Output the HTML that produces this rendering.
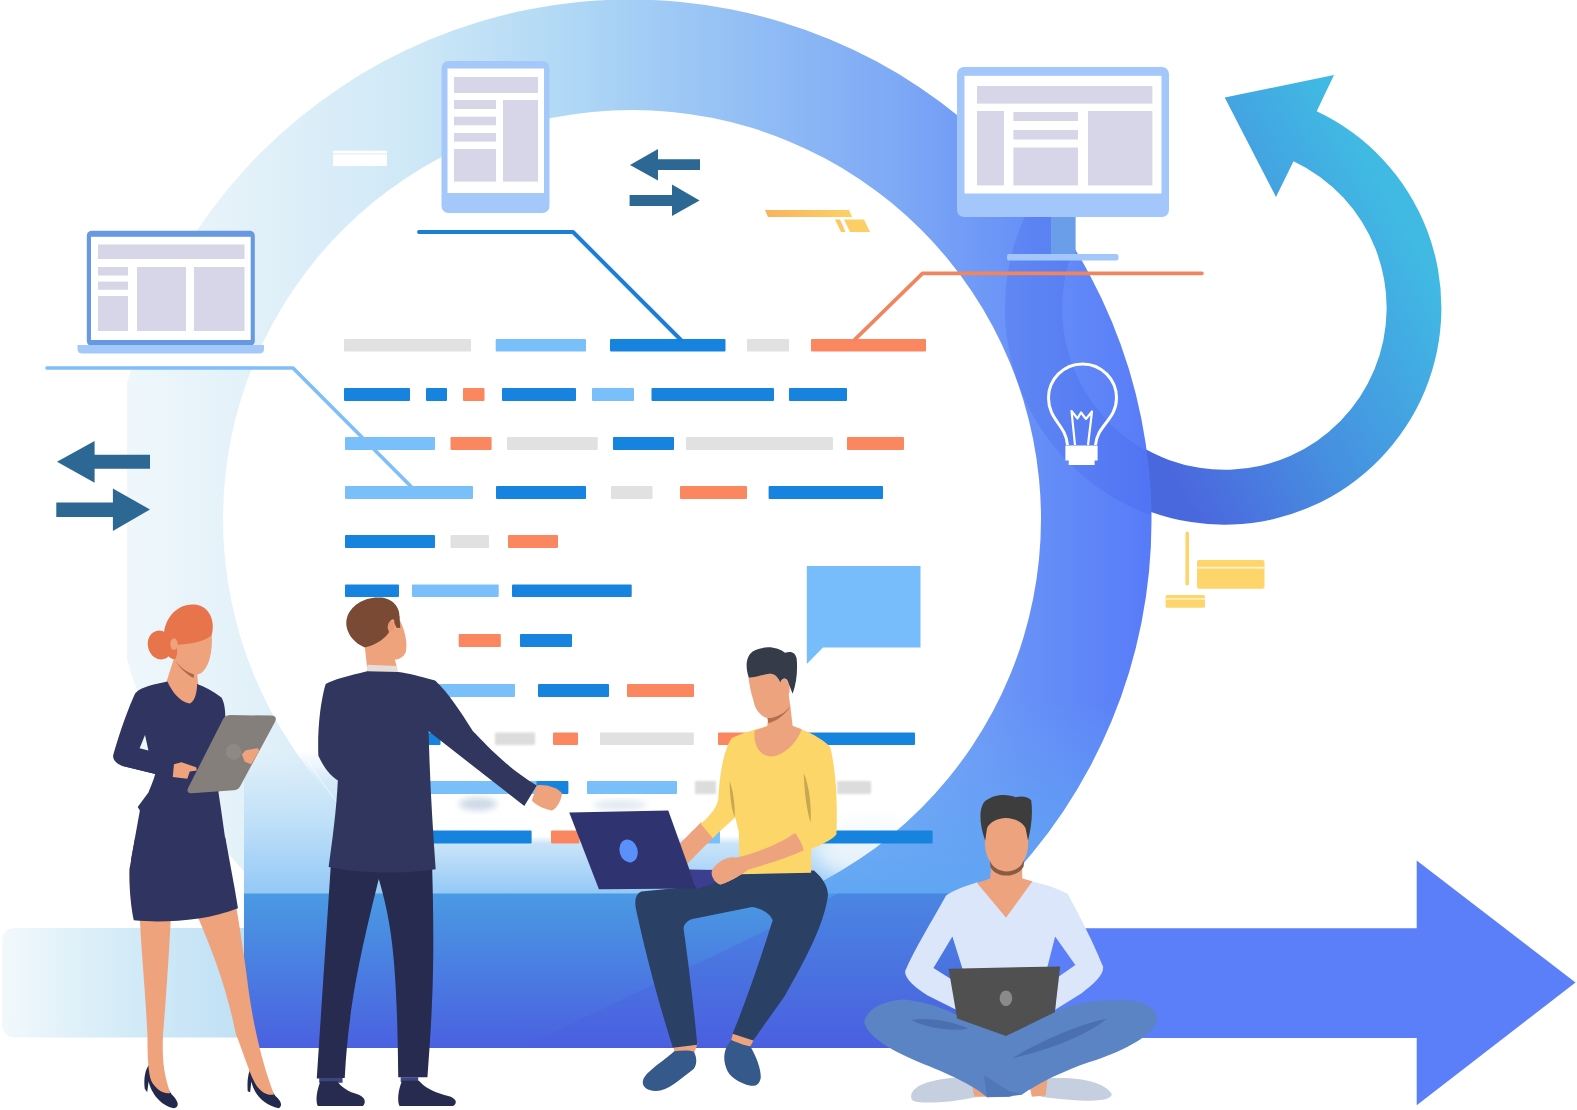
<!DOCTYPE html>
<html lang="en">
<head>
<meta charset="utf-8">
<title>Agile workflow illustration</title>
<style>
html,body{margin:0;padding:0;background:#fff;}
body{width:1577px;height:1110px;overflow:hidden;font-family:"Liberation Sans",sans-serif;}
svg{display:block;}
</style>
</head>
<body>
<svg width="1577" height="1110" viewBox="0 0 1577 1110">
<defs>
  <linearGradient id="gRing" gradientUnits="userSpaceOnUse" x1="125" y1="0" x2="1152" y2="0">
    <stop offset="0" stop-color="#eff7fb"/>
    <stop offset="0.10" stop-color="#e5f2f9"/>
    <stop offset="0.27" stop-color="#d0e9f7"/>
    <stop offset="0.42" stop-color="#b2d9f5"/>
    <stop offset="0.58" stop-color="#96c2f5"/>
    <stop offset="0.75" stop-color="#7ea9f5"/>
    <stop offset="0.88" stop-color="#6790f7"/>
    <stop offset="1" stop-color="#577bf8"/>
  </linearGradient>
  <linearGradient id="gFloor" gradientUnits="userSpaceOnUse" x1="0" y1="893" x2="0" y2="1048">
    <stop offset="0" stop-color="#4a9ae3"/>
    <stop offset="0.5" stop-color="#4a7de1"/>
    <stop offset="1" stop-color="#4a61e0"/>
  </linearGradient>
  <linearGradient id="gGlow" gradientUnits="userSpaceOnUse" x1="0" y1="836" x2="0" y2="894">
    <stop offset="0" stop-color="#cde6f9" stop-opacity="0"/>
    <stop offset="0.13" stop-color="#cae4f9" stop-opacity="1"/>
    <stop offset="1" stop-color="#93c8f6" stop-opacity="1"/>
  </linearGradient>
  <filter id="fBlur" x="-30%" y="-30%" width="160%" height="160%"><feGaussianBlur stdDeviation="9"/></filter>
  <filter id="fBlur1" x="-20%" y="-60%" width="140%" height="220%"><feGaussianBlur stdDeviation="1.3"/></filter>
  <filter id="fBlur2" x="-30%" y="-30%" width="160%" height="160%"><feGaussianBlur stdDeviation="3"/></filter>
  <linearGradient id="gGlowL" gradientUnits="userSpaceOnUse" x1="0" y1="750" x2="0" y2="894">
    <stop offset="0" stop-color="#d8ecf9" stop-opacity="0"/>
    <stop offset="0.2" stop-color="#d3e9f8" stop-opacity="0.9"/>
    <stop offset="0.5" stop-color="#bfe0f8" stop-opacity="1"/>
    <stop offset="1" stop-color="#93c8f6" stop-opacity="1"/>
  </linearGradient>
  <linearGradient id="gGlowR" gradientUnits="userSpaceOnUse" x1="0" y1="700" x2="0" y2="894">
    <stop offset="0" stop-color="#62a8f4" stop-opacity="0"/>
    <stop offset="1" stop-color="#5fa6f3" stop-opacity="0.95"/>
  </linearGradient>
  <clipPath id="cDisc"><circle cx="632" cy="519" r="409"/></clipPath>
  <clipPath id="cNotDisc"><path clip-rule="evenodd" d="M0,0H1577V1110H0Z M223,519 A409,409 0 1 1 1041,519 A409,409 0 1 1 223,519 Z"/></clipPath>
  <clipPath id="cRingOuter"><circle cx="630" cy="521" r="521.5"/></clipPath>
  <clipPath id="cLeft"><rect x="127" y="-10" width="1500" height="1200"/></clipPath>
  <linearGradient id="gPale" gradientUnits="userSpaceOnUse" x1="0" y1="0" x2="244" y2="0">
    <stop offset="0" stop-color="#f3f9fc"/>
    <stop offset="0.4" stop-color="#d9eef8"/>
    <stop offset="1" stop-color="#bfe0f5"/>
  </linearGradient>
  <linearGradient id="gBranch" gradientUnits="userSpaceOnUse" x1="1184" y1="495" x2="1465" y2="335">
    <stop offset="0" stop-color="#4a68de"/>
    <stop offset="0.12" stop-color="#4a72df"/>
    <stop offset="0.45" stop-color="#4690e0"/>
    <stop offset="0.75" stop-color="#43a6e2"/>
    <stop offset="1" stop-color="#40b9e3"/>
  </linearGradient>
  <linearGradient id="gYel" gradientUnits="userSpaceOnUse" x1="765" y1="0" x2="870" y2="0">
    <stop offset="0" stop-color="#f9b25e"/>
    <stop offset="1" stop-color="#fdd768"/>
  </linearGradient>
  <clipPath id="cView"><rect x="0" y="0" width="1577" height="1110"/></clipPath>
</defs>
<g clip-path="url(#cView)">
<!-- BACKGROUND -->
<g id="bg">
  <!-- branch arrow (under ring) -->
  <path id="branch" fill="url(#gBranch)" d="M1071.6,461.4 A217,217 0 0 0 1151.0,511.9 A217,217 0 0 0 1316.7,111.3 L1334,75 L1224.7,97.5 L1276,197 L1293.5,161.2 A162,162 0 0 1 1169.6,460.2 A162,162 0 0 1 1110.4,422.6 Z"/>
  <!-- ring -->
  <g clip-path="url(#cLeft)"><path id="ring" fill="url(#gRing)" fill-rule="evenodd" d="M108.5,521 A521.5,521.5 0 1 0 1151.5,521 A521.5,521.5 0 1 0 108.5,521 Z M223,519 A409,409 0 1 1 1041,519 A409,409 0 1 1 223,519 Z"/></g>
</g>
<g id="bg2">
  <!-- darker swoosh on ring right side (tail of branch) -->
  <g clip-path="url(#cRingOuter)"><path fill="#3a5ce6" opacity="0.22" d="M1186.8,524.7 A220,220 0 0 1 1061.5,160.8 L1103.9,198.9 A163,163 0 0 0 1196.7,468.5 Z"/></g>
  <!-- pale band bottom-left -->
  <path fill="url(#gPale)" d="M16,928 H244 V1037.5 H16 Q2,1037.5 2,1024 V942 Q2,928 16,928 Z"/>
  <!-- glow -->
  <g clip-path="url(#cNotDisc)"><g clip-path="url(#cRingOuter)"><rect x="760" y="700" width="440" height="194" fill="url(#gGlowR)"/></g></g>
  <rect x="244" y="836" width="456" height="58" fill="url(#gGlow)"/>
  <g clip-path="url(#cDisc)"><rect x="700" y="836" width="344" height="58" fill="url(#gGlow)"/>
  <ellipse cx="872" cy="850" rx="55" ry="30" fill="#f2f8fc" opacity="0.8" filter="url(#fBlur)"/></g>
  <rect x="244" y="750" width="101" height="144" fill="url(#gGlowL)"/>
  <path d="M283.5,713 A409,409 0 0 0 345,812" fill="none" stroke="#ffffff" stroke-opacity="0.45" stroke-width="1.2"/>
  <ellipse cx="478" cy="804" rx="19" ry="6.5" fill="#cdd9e6" filter="url(#fBlur2)"/>
  <ellipse cx="620" cy="805" rx="27" ry="4.5" fill="#dfe7f0" filter="url(#fBlur2)"/>
  
  <!-- floor -->
  <rect x="244" y="893.5" width="770" height="154.5" fill="url(#gFloor)"/>
  <path fill="#4b5ce0" opacity="0.32" d="M838,893.5 H1014 V1048 H520 L600,1010 C700,962 770,930 838,893.5 Z"/>
  <!-- big arrow -->
  <path fill="#5b7ff8" d="M1000,928.2 H1416.7 V860.5 L1575.5,982.5 L1416.7,1105.3 V1038 H1000 Z"/>
</g>

<g id="rows">
<rect x="344" y="339" width="127" height="12.6" rx="1" fill="#e1e1e1"/>
<rect x="495.7" y="339" width="90.3" height="12.6" rx="1" fill="#79bffa"/>
<rect x="610" y="339" width="115.5" height="12.6" rx="1" fill="#1683de"/>
<rect x="747" y="339" width="42" height="12.6" rx="1" fill="#e1e1e1"/>
<rect x="811" y="339" width="115" height="12.6" rx="1" fill="#fb8761"/>
<rect x="344" y="388" width="66" height="13" rx="1" fill="#1683de"/>
<rect x="426" y="388" width="21" height="13" rx="1" fill="#1683de"/>
<rect x="463" y="388" width="21.5" height="13" rx="1" fill="#fb8761"/>
<rect x="502" y="388" width="74" height="13" rx="1" fill="#1683de"/>
<rect x="592" y="388" width="42" height="13" rx="1" fill="#79bffa"/>
<rect x="651.5" y="388" width="122.5" height="13" rx="1" fill="#1683de"/>
<rect x="789" y="388" width="58" height="13" rx="1" fill="#1683de"/>
<rect x="345" y="437" width="90" height="13" rx="1" fill="#79bffa"/>
<rect x="450.5" y="437" width="41.1" height="13" rx="1" fill="#fb8761"/>
<rect x="507" y="437" width="90.7" height="13" rx="1" fill="#e1e1e1"/>
<rect x="613" y="437" width="61" height="13" rx="1" fill="#1683de"/>
<rect x="686" y="437" width="147" height="13" rx="1" fill="#e1e1e1"/>
<rect x="847" y="437" width="57" height="13" rx="1" fill="#fb8761"/>
<rect x="345" y="486" width="128" height="13" rx="1" fill="#79bffa"/>
<rect x="496" y="486" width="90" height="13" rx="1" fill="#1683de"/>
<rect x="611" y="486" width="41.5" height="13" rx="1" fill="#e1e1e1"/>
<rect x="680" y="486" width="67" height="13" rx="1" fill="#fb8761"/>
<rect x="768.6" y="486" width="114.4" height="13" rx="1" fill="#1683de"/>
<rect x="345" y="535" width="90" height="13" rx="1" fill="#1683de"/>
<rect x="450.5" y="535" width="38.5" height="13" rx="1" fill="#e1e1e1"/>
<rect x="508" y="535" width="50" height="13" rx="1" fill="#fb8761"/>
<rect x="345" y="584.5" width="54" height="12.5" rx="1" fill="#1683de"/>
<rect x="412" y="584.5" width="86.7" height="12.5" rx="1" fill="#79bffa"/>
<rect x="512" y="584.5" width="119.7" height="12.5" rx="1" fill="#1683de"/>
<rect x="458.7" y="634" width="42.1" height="13" rx="1" fill="#fb8761"/>
<rect x="520" y="634" width="52" height="13" rx="1" fill="#1683de"/>
<rect x="420" y="684" width="95" height="13" rx="1" fill="#79bffa"/>
<rect x="538" y="684" width="71" height="13" rx="1" fill="#1683de"/>
<rect x="627" y="684" width="67" height="13" rx="1" fill="#fb8761"/>
<rect x="420" y="732.6" width="20.5" height="12.4" rx="1" fill="#1683de"/>
<rect x="495" y="732.6" width="40" height="12.4" rx="1" fill="#dcdcdc" filter="url(#fBlur1)"/>
<rect x="553" y="732.6" width="25" height="12.4" rx="1" fill="#fb8761"/>
<rect x="600" y="732.6" width="93.8" height="12.4" rx="1" fill="#e1e1e1"/>
<rect x="718" y="732.6" width="42" height="12.4" rx="1" fill="#fb8761"/>
<rect x="800" y="732.6" width="115" height="12.4" rx="1" fill="#1683de"/>
<rect x="420" y="781" width="120" height="13" rx="1" fill="#79bffa"/>
<rect x="536.5" y="781" width="31.9" height="13" rx="1" fill="#1683de"/>
<rect x="587" y="781" width="90" height="13" rx="1" fill="#79bffa"/>
<rect x="695" y="781" width="21" height="13" rx="1" fill="#dcdcdc" filter="url(#fBlur1)"/>
<rect x="837" y="781" width="34" height="13" rx="1" fill="#dcdcdc" filter="url(#fBlur1)"/>
<rect x="420" y="830.5" width="111.6" height="13.0" rx="1" fill="#1683de"/>
<rect x="551" y="830.5" width="28.5" height="13.0" rx="1" fill="#fb8761"/>
<rect x="700" y="830.5" width="20" height="13.0" rx="1" fill="#79bffa"/>
<rect x="810" y="830.5" width="122.6" height="13.0" rx="1" fill="#1683de"/>
</g>

<g id="devices">
  <rect x="120" y="353" width="150" height="13.5" fill="#ffffff"/>
  <!-- connector lines -->
  <path d="M47,368 H293 L412,487.5" fill="none" stroke="#80bef7" stroke-width="3.6" stroke-linejoin="round" stroke-linecap="round"/>
  <path d="M419,232 H573 L681,340" fill="none" stroke="#1b7fd6" stroke-width="4" stroke-linejoin="round" stroke-linecap="round"/>
  <path d="M1202,273.4 H922.5 L855,339.4" fill="none" stroke="#f0865f" stroke-width="3.6" stroke-linejoin="round" stroke-linecap="round"/>
  <!-- laptop -->
  <rect x="86.8" y="230.7" width="168" height="115.3" rx="5" fill="#6799e3"/>
  <rect x="91" y="236.8" width="159.7" height="103.2" fill="#ffffff"/>
  <path d="M77.5,345 H264 V349 Q264,353.5 259,353.5 H82.5 Q77.5,353.5 77.5,349 Z" fill="#a5c8fb"/>
  <g fill="#d6d6e8">
    <rect x="98" y="244.5" width="146.5" height="14.5"/>
    <rect x="98" y="267" width="30" height="8.5"/>
    <rect x="98" y="281.6" width="30" height="8.2"/>
    <rect x="98" y="296" width="30" height="35"/>
    <rect x="137" y="267" width="49" height="64"/>
    <rect x="194" y="267" width="50.5" height="64"/>
  </g>
  <!-- tablet -->
  <rect x="441.5" y="61" width="108" height="152" rx="7" fill="#a5c8fb"/>
  <rect x="447.5" y="68.5" width="96.5" height="124.5" fill="#ffffff"/>
  <g fill="#d6d6e8">
    <rect x="454" y="77" width="84" height="16"/>
    <rect x="454" y="100" width="42" height="9"/>
    <rect x="454" y="116.7" width="42" height="8.6"/>
    <rect x="454" y="133" width="42" height="8.6"/>
    <rect x="454" y="149" width="42" height="32.6"/>
    <rect x="503" y="100" width="35" height="81.6"/>
  </g>
  <!-- monitor -->
  <rect x="1051" y="215" width="24.6" height="41" fill="#6a9ee8"/>
  <rect x="1007" y="254" width="111.5" height="6.5" rx="2" fill="#a3c7fb"/>
  <rect x="957" y="67" width="212" height="150" rx="7" fill="#a3c7fb"/>
  <rect x="964.5" y="75.8" width="197" height="117.7" fill="#ffffff"/>
  <g fill="#d6d6e8">
    <rect x="977" y="86" width="175.4" height="17.6"/>
    <rect x="977" y="111" width="27" height="74.4"/>
    <rect x="1013.4" y="112" width="64.6" height="9"/>
    <rect x="1013.4" y="130" width="64.6" height="9.5"/>
    <rect x="1013.4" y="147.5" width="64.6" height="37.9"/>
    <rect x="1088" y="111" width="64.4" height="74.4"/>
  </g>
</g>

<g id="decor">
  <!-- white chip on ring -->
  <rect x="333" y="150.7" width="54" height="15.3" fill="#ffffff"/>
  <rect x="333" y="153.2" width="54" height="1.2" fill="#e4eef8"/>
  <!-- orange/yellow marker -->
  <path d="M765,210 H849 L852,217 H768 Z" fill="url(#gYel)"/>
  <path d="M835,219.5 H840 L845.5,232 H841 Z" fill="#fbc863"/>
  <path d="M844,219.5 H864 L870,232 H850 Z" fill="#fccf66"/>
  <!-- yellow blocks right -->
  <rect x="1185.4" y="531.5" width="3.6" height="54" rx="1.8" fill="#fdd56b"/>
  <rect x="1197" y="560" width="67.5" height="28.7" rx="2" fill="#fdd56b"/>
  <rect x="1197" y="566.8" width="67.5" height="1.8" fill="#fff3cf"/>
  <rect x="1165.6" y="595" width="39.4" height="12.7" rx="1.5" fill="#fdd56b"/>
  <rect x="1165.6" y="598.2" width="39.4" height="1.4" fill="#fff3cf"/>
  <!-- speech bubble -->
  <path d="M806.8,566 H920.5 V647.5 H823 L806.8,664 Z" fill="#78bdfb"/>
  <!-- arrow pairs -->
  <g fill="#2d6895">
    <path d="M57,461.7 L94.6,441 V454.8 H150 V468.8 H94.6 V482.7 Z"/>
    <path d="M150,509.5 L112.9,488.6 V502.5 H56.3 V517 H112.9 V531 Z"/>
    <path d="M630,165 L658,149 V159.3 H700 V170 H658 V180.6 Z"/>
    <path d="M699.6,200.4 L672,184.6 V195 H629.6 V206 H672 V216 Z"/>
  </g>
  <!-- light bulb -->
  <g fill="none" stroke="#ffffff" stroke-width="3" stroke-linejoin="round">
    <path d="M1067.5,445 C1066,425 1048.5,420 1048.5,398 A34,34 0 1 1 1116.5,398 C1116.5,420 1097,425 1095.5,445"/>
    <path d="M1075,445 L1071.5,411 L1077.5,418.5 L1081,412.5 L1086,419 L1092,411.5 L1088,445" stroke-width="2.2"/>
  </g>
  <path d="M1065.4,445.4 H1097.6 V460.6 H1094.6 V465 H1068.7 V460.6 H1065.4 Z" fill="#ffffff"/>
</g>

<g id="people">
<!-- ===== Woman (upper) : zoom origin (90,590) scale 4.109 ===== -->
<g transform="translate(90,590) scale(0.24337)">
  <!-- skirt + legs are in lower group -->
  <!-- neck -->
  <path fill="#efa37d" d="M345,280 L440,335 L445,395 L425,475 L380,470 L335,425 L314,378 Z"/>
  <!-- face -->
  <path fill="#efa37d" d="M332,200 C400,215 460,200 500,183 C503,215 500,250 492,280 C482,320 462,345 440,347 C405,340 370,315 352,290 C340,260 333,230 332,200 Z"/>
  <path fill="#a8684a" d="M352,292 C370,318 400,340 428,347 L425,362 C395,345 368,320 352,292 Z"/>
  <!-- hair -->
  <ellipse cx="288" cy="226" rx="50" ry="60" transform="rotate(-15 288 226)" fill="#e8744c"/>
  <path fill="#e8744c" d="M305,215 C292,120 360,52 432,60 C492,66 516,130 500,186 C470,214 410,222 352,226 C360,240 362,262 350,285 C322,285 305,255 305,215 Z"/>
  <ellipse cx="345" cy="222" rx="15" ry="24" fill="#efa37d"/>
  <!-- dress upper -->
  <path fill="#2f3560" d="M318,376 C270,386 212,396 186,424 C150,500 112,620 95,680 C93,700 108,712 130,722 L268,756 C260,785 248,812 240,832 L196,892 L205,906 L168,1110 L568,1110 L540,912 L528,832 C540,740 560,620 556,522 C556,480 548,455 540,442 C505,415 470,396 440,386 C440,430 425,465 408,466 C372,462 338,420 318,376 Z"/>
  <path fill="#2f3560" d="M130,722 L345,775 L350,716 L240,690 Z"/>
  <path fill="#eef6fb" d="M226,596 L204,650 L240,660 Z"/>
  <!-- left hand -->
  <path fill="#efa37d" d="M345,716 L376,708 L436,728 L439,742 L410,746 L400,776 L340,768 Z"/>
  <!-- tablet -->
  <path fill="#857f7c" d="M578,514 L745,516 Q772,518 760,542 L616,808 Q608,822 590,823 L418,835 Q393,836 404,812 L546,532 Q556,514 578,514 Z"/>
  <circle cx="590" cy="665" r="32" fill="#8f8986"/>
  <!-- right hand -->
  <path fill="#efa37d" d="M640,658 L688,650 Q698,655 692,668 L662,716 L636,706 L624,676 Z"/>
</g>
<!-- ===== Woman (lower) : zoom origin (90,840) scale 4.109 ===== -->
<g transform="translate(90,840) scale(0.24337)">
  <path fill="#23284d" d="M246,920 C226,940 220,980 225,1022 L235,1037 L241,992 C252,1042 292,1092 346,1102 C368,1096 366,1076 336,1046 L300,990 L262,940 Z"/>
  <path fill="#23284d" d="M666,930 C650,950 645,990 648,1032 L658,1037 L663,992 C676,1052 722,1092 776,1102 C792,1092 786,1072 762,1052 L720,990 L682,940 Z"/>
  <path fill="#efa37d" d="M205,320 L332,320 C326,450 316,600 300,800 C296,900 302,960 330,1040 C300,1046 268,1020 252,990 C240,960 236,900 236,800 C226,600 210,450 205,320 Z"/>
  <path fill="#efa37d" d="M445,320 L602,280 C622,400 640,520 652,620 C672,760 702,900 756,1046 C726,1052 694,1030 676,995 C652,950 622,850 600,800 C560,600 500,450 445,320 Z"/>
  <path fill="#2f3560" d="M186,-10 L162,120 C160,220 174,300 180,330 C300,342 480,332 608,280 C592,180 572,80 556,-10 Z"/>
</g>
<!-- ===== Suit man (lower): origin (290,840) scale 4.111 ===== -->
<g transform="translate(290,840) scale(0.24325)">
  <path fill="#262b4f" d="M172,40 L110,980 L225,978 C240,700 280,500 365,160 C420,350 440,500 445,975 L565,975 C585,700 598,500 582,40 Z"/>
  <rect x="120" y="978" width="96" height="20" fill="#3c4580"/>
  <rect x="455" y="975" width="72" height="20" fill="#3c4580"/>
  <path fill="#262b4f" d="M125,992 C110,1030 104,1070 114,1094 L300,1094 C316,1076 306,1056 280,1046 C240,1036 210,1016 195,992 Z"/>
  <path fill="#262b4f" d="M460,990 C445,1030 440,1070 450,1094 L670,1094 C692,1080 682,1060 650,1052 C600,1042 550,1016 530,990 Z"/>
</g>
<!-- ===== Suit man (upper): origin (300,580) scale 3.7 ===== -->
<g transform="translate(300,580) scale(0.27027)">
  <!-- neck/head skin -->
  <path fill="#efa37d" d="M240,250 C290,235 320,210 330,160 C345,138 360,138 370,150 C390,190 399,238 391,268 C381,288 364,294 351,294 L358,322 L248,322 Z"/>
  <ellipse cx="336" cy="170" rx="14" ry="21" fill="#ea9876"/>
  <path fill="#7a4a35" d="M240,250 C190,230 162,180 174,140 C186,95 240,60 300,65 C350,70 376,110 366,152 C352,150 344,142 336,150 C322,160 322,180 330,192 C318,212 290,236 240,250 Z"/>
  <path fill="#7a4a35" d="M348,128 L368,134 L371,178 L357,177 L349,158 Z"/>
  <path fill="#e6dcd8" d="M250,314 L358,318 L364,342 L246,340 Z"/>
  <!-- jacket -->
  <path fill="#31365e" d="M248,338 C180,355 120,370 95,385 C75,450 64,560 68,650 C90,700 120,730 140,742 C135,850 120,960 106,1062 C230,1088 380,1088 502,1070 C490,900 480,740 476,560 L830,836 L876,760 C760,690 690,610 640,560 C590,480 550,420 500,372 C440,355 400,345 364,340 Z"/>
  <!-- hand -->
  <path fill="#efa37d" d="M876,760 C900,754 950,764 970,790 C966,820 946,850 930,853 C900,846 870,832 858,816 Z"/>
</g>
<!-- ===== Yellow-shirt man (lower): origin (600,840) scale 4.111 ===== -->
<g transform="translate(600,840) scale(0.24325)">
  <path fill="#eda47e" d="M300,845 L402,835 L388,874 L308,876 Z"/>
  <path fill="#eda47e" d="M548,790 L634,818 L616,852 L538,828 Z"/>
  <path fill="#2a4064" d="M390,190 L610,130 L880,125 C920,160 942,200 936,236 C920,330 880,430 760,640 L630,824 L545,796 C590,690 650,520 710,330 C700,300 660,280 625,275 L380,325 C350,335 340,355 345,375 C360,480 385,680 400,842 L300,854 C250,700 190,480 148,285 C140,245 150,220 170,212 Z"/>
  <path fill="#34598a" d="M305,868 C340,864 370,864 386,870 C402,900 396,926 386,940 C330,982 280,1032 230,1032 C190,1032 168,1010 178,985 C190,950 260,910 305,868 Z"/>
  <path fill="#34598a" d="M540,822 C570,836 600,846 618,848 C642,890 662,940 661,976 C656,1006 640,1012 620,1010 C570,1000 530,970 520,940 C500,890 515,850 540,822 Z"/>
</g>
<!-- ===== Yellow-shirt man (upper): origin (560,630) scale 4.11 ===== -->
<g transform="translate(560,630) scale(0.24331)">
  <!-- left forearm (behind laptop) -->
  <path fill="#eda47e" d="M580,790 L632,850 C600,884 560,924 520,964 L470,900 C510,860 550,820 580,790 Z"/>
  <!-- shirt -->
  <path fill="#fdd66a" d="M850,395 C800,410 740,425 705,445 C670,500 655,600 650,700 C640,740 600,780 578,796 L628,856 C660,822 690,800 720,770 L735,830 L738,1004 L1032,998 L1032,900 C1080,880 1120,860 1136,840 C1142,700 1132,560 1110,480 C1070,440 1020,420 985,405 Z"/>
  <path fill="#c9a652" d="M697,622 C712,660 720,720 718,772 C706,740 698,690 697,622 Z"/>
  <path fill="#c9a652" d="M1002,588 C1024,640 1034,720 1030,792 C1014,740 1004,670 1002,588 Z"/>
  <!-- neck skin -->
  <path fill="#eda47e" d="M800,413 C790,500 850,532 890,516 C940,500 980,450 993,408 L956,394 L946,305 L855,360 L852,396 Z"/>
  <path fill="#b36e4f" d="M852,361 C889,356 924,338 943,311 L942,323 C916,356 889,374 857,383 Z"/>
  <!-- face -->
  <path fill="#eda47e" d="M775,195 C800,195 830,185 860,180 C880,180 895,190 905,215 C915,195 930,195 936,215 C946,230 946,250 940,265 L946,310 C930,340 890,362 850,362 C820,352 800,322 795,290 C785,260 778,225 775,195 Z"/>
  <!-- hair -->
  <path fill="#353b48" d="M776,196 C760,150 764,100 800,84 C850,60 900,74 925,94 C950,84 970,94 973,120 C977,170 972,220 956,262 L938,216 C932,194 914,194 905,216 C895,190 880,180 860,180 C830,185 800,196 776,196 Z"/>
  <!-- right forearm + hand -->
  <path fill="#eda47e" d="M1002,905 C992,870 976,845 966,834 C900,880 800,920 720,936 C680,930 640,960 624,990 C618,1012 640,1042 660,1046 C700,1032 740,1010 770,986 C860,960 950,930 1002,905 Z"/>
  <!-- laptop -->
  <path fill="#3c3f8f" d="M530,984 L645,986 L632,1042 L560,1064 Z"/>
  <path fill="#2f3470" d="M38,750 L445,742 L560,1062 L160,1066 Z"/>
  <ellipse cx="282" cy="908" rx="37" ry="48" transform="rotate(-16 282 908)" fill="#5b8ff9"/>
  <!-- hand over laptop edge -->
  <path fill="#eda47e" d="M624,990 C640,960 680,930 720,936 L770,986 C740,1010 700,1032 660,1046 C640,1042 618,1012 624,990 Z"/>
</g>
<!-- ===== Sitting man: origin (820,760) scale 3.1725 ===== -->
<g transform="translate(820,760) scale(0.31521)">
  <!-- socks -->
  <path fill="#c5cfe0" d="M290,1060 C300,1030 350,1010 480,1004 L500,1068 C420,1086 330,1092 296,1082 C288,1076 288,1068 290,1060 Z"/>
  <path fill="#c5cfe0" d="M720,1010 C820,1004 900,1020 926,1060 C922,1086 850,1086 700,1068 Z"/>
  <path fill="#eda47e" d="M476,1003 L516,1000 L528,1068 L490,1068 Z"/>
  <path fill="#eda47e" d="M666,1040 L722,1010 L716,1064 L672,1068 Z"/>
  <!-- legs -->
  <path fill="#5b84c4" d="M140,830 C150,790 200,765 260,760 C330,765 400,790 435,810 L590,875 L745,800 C800,770 880,760 980,762 C1040,765 1076,800 1070,830 C1050,880 950,930 850,960 C780,985 700,1020 640,1062 L530,1070 C500,1040 420,1000 330,965 C230,925 150,880 140,830 Z"/>
  <path fill="#5b84c4" d="M478,1000 L600,940 L722,1008 L665,1045 L600,1068 L530,1070 Z"/>
  <path fill="#4a70b0" d="M290,825 C350,815 420,830 470,852 C420,862 340,852 290,825 Z"/>
  <path fill="#4a70b0" d="M610,946 C700,890 820,840 910,820 C850,872 720,922 610,946 Z"/>
  <path fill="#4a70b0" d="M520,1000 L600,1050 L640,1062 L600,1068 L530,1068 Z" opacity="0.6"/>
  <!-- shirt -->
  <path fill="#dbe6fa" d="M500,388 C460,400 420,415 400,430 C350,520 300,600 270,670 C268,692 300,722 340,746 L432,792 L424,700 L360,660 L420,560 L455,672 L720,662 L746,560 L810,650 L750,692 L746,792 L830,740 C870,710 902,680 898,655 C860,560 810,470 786,425 C750,405 710,395 672,385 L590,498 Z"/>
  <!-- neck -->
  <path fill="#eda47e" d="M545,300 L540,376 L498,390 L590,500 L674,385 L642,376 L640,300 Z"/>
  <path fill="#8a5a44" d="M538,316 C552,366 632,366 648,316 L646,338 C626,376 560,376 541,340 Z"/>
  <!-- face -->
  <path fill="#eda47e" d="M524,215 C535,190 560,182 590,182 C625,182 648,192 658,215 L661,250 C662,300 648,346 592,348 C536,346 522,300 523,250 Z"/>
  <path fill="#3d3d3d" d="M524,256 C504,200 504,150 524,130 C560,104 600,110 620,118 C640,113 662,117 670,128 C676,170 670,215 660,256 L652,216 C642,196 620,186 590,184 C560,186 540,196 530,216 Z"/>
  <!-- laptop -->
  <path fill="#505050" d="M408,662 L762,655 L745,800 L590,876 L435,820 Z"/>
  <ellipse cx="590" cy="756" rx="20" ry="25" fill="#8a8a8a"/>
</g>
</g>

</g>
</svg>
</body>
</html>
